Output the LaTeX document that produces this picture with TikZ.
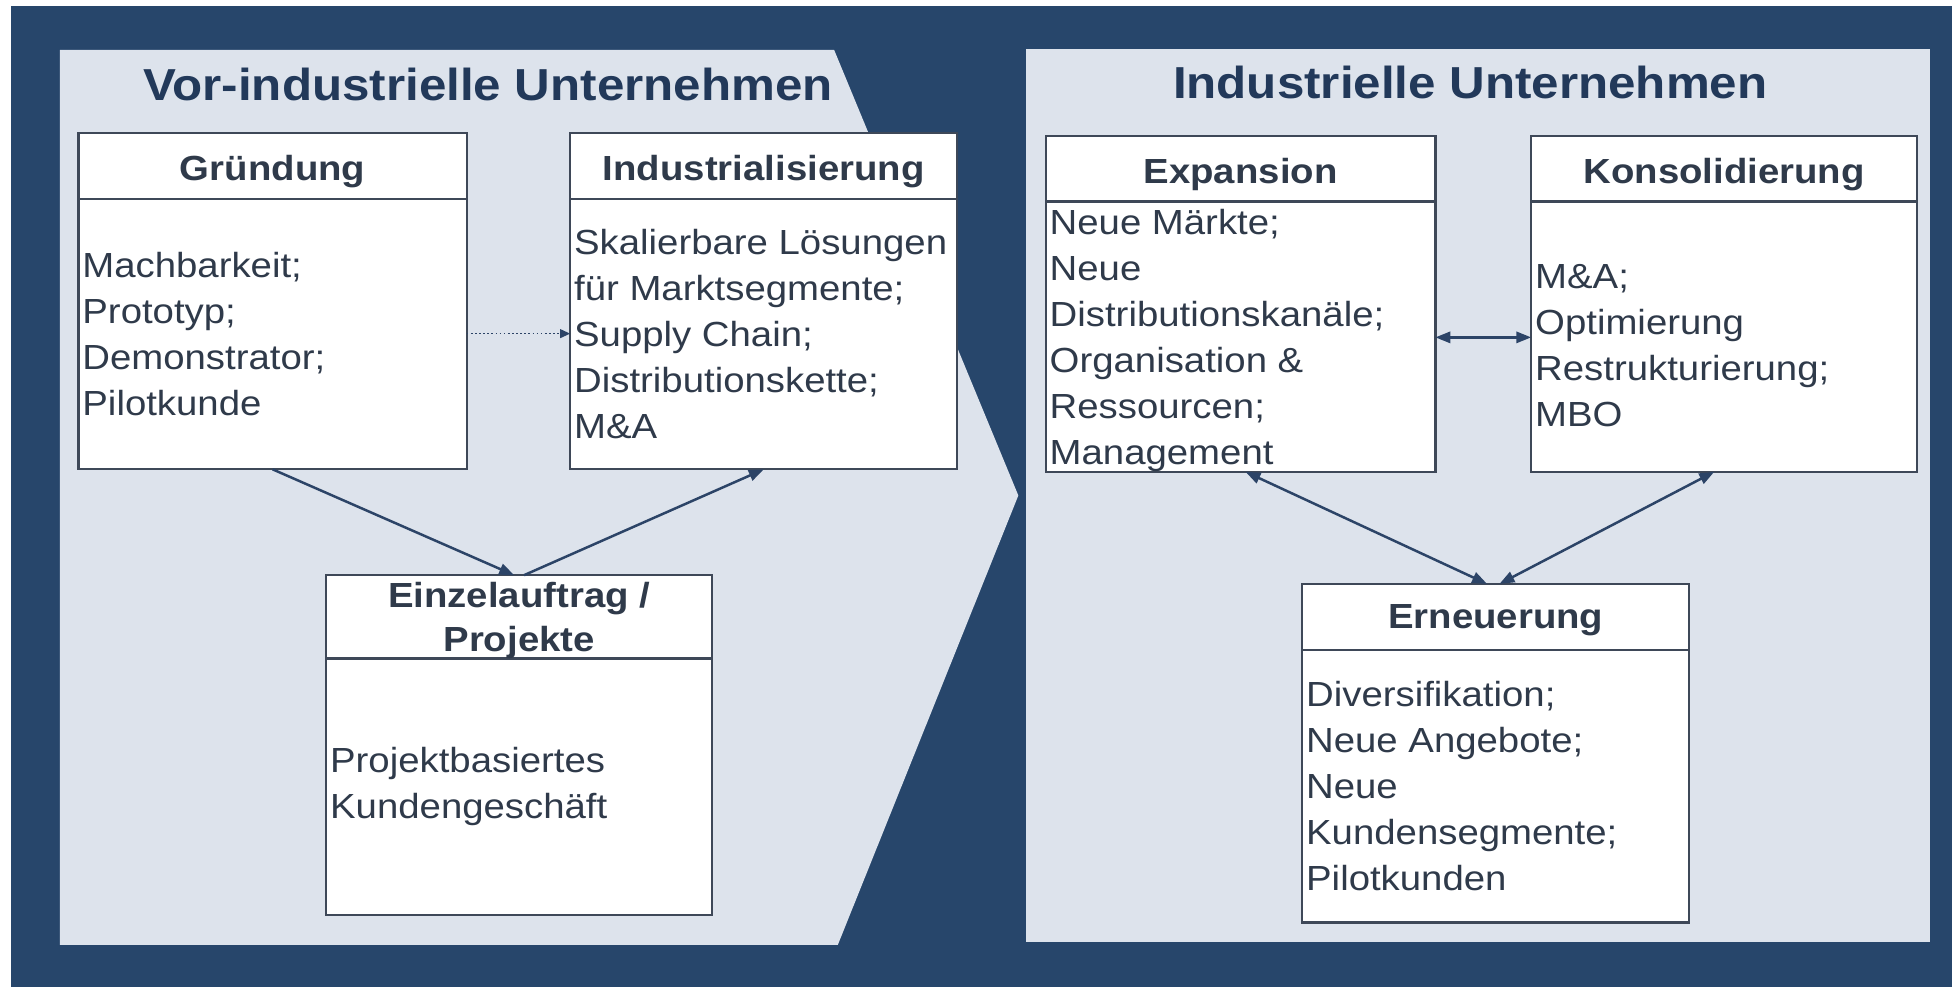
\documentclass[tikz,border=0pt]{standalone}
\usepackage{fontspec}
\setmainfont{Liberation Sans}[FakeStretch=1.1]
\usetikzlibrary{arrows.meta}
\definecolor{bgdark}{HTML}{27466B}
\definecolor{panel}{HTML}{DDE3EC}
\definecolor{txt}{HTML}{2F3A4A}
\definecolor{ttlc}{HTML}{22395A}
\definecolor{brd}{HTML}{3E4858}
\definecolor{arrc}{HTML}{2C4467}
\newcommand{\fs}{\rule{0pt}{26pt}}
\begin{document}
\begin{tikzpicture}[x=1pt,y=-1pt,
  box/.style={draw=brd, line width=1.8pt, fill=white, inner sep=0pt, outer sep=0pt},
  sep/.style={draw=brd, line width=2pt},
  hdr/.style={font=\fontsize{28}{35}\selectfont\bfseries, text=txt, align=center, inner sep=0pt},
  body/.style={font=\fontsize{28}{37}\selectfont, text=txt, align=left, inner sep=0pt, anchor=north west},
  ttl/.style={font=\fontsize{36}{40}\selectfont\bfseries, text=ttlc, inner sep=0pt, anchor=base},
  con/.style={draw=arrc, line width=2pt, -{Triangle[length=12pt,width=9pt]}},
  dcon/.style={draw=arrc, line width=2pt, {Triangle[length=12pt,width=9pt]}-{Triangle[length=12pt,width=9pt]}},
  dotcon/.style={draw=arrc, line width=1.3pt, dotted, -{Triangle[length=8pt,width=7pt]}},
]
\useasboundingbox (0,0) rectangle (1568,793);
\fill[white] (0,0) rectangle (1568,793);
\fill[bgdark] (9,5) rectangle (1568,793);
\fill[panel] (48,40) -- (670,40) -- (818,398) -- (673,759) -- (48,759) -- cycle;
\fill[panel] (824,39) rectangle (1550,757);

% titles
\node[ttl] (t1) at (392,81) {Vor-industrielle Unternehmen};
\node[ttl] (t2) at (1181,79) {Industrielle Unternehmen};

% boxes
\node[box, minimum width=312pt, minimum height=270pt] (gr) at (219,242) {};
\node[box, minimum width=311pt, minimum height=270pt] (ind) at (613.5,242) {};
\node[box, minimum width=310pt, minimum height=273pt] (ein) at (417,598.5) {};
\node[box, minimum width=313pt, minimum height=270pt] (exp) at (996.5,244) {};
\node[box, minimum width=310pt, minimum height=270pt] (kon) at (1385,244) {};
\node[box, minimum width=311pt, minimum height=272pt] (ern) at (1201.5,605) {};

% header separators
\draw[sep] (gr.west |- 0,160) -- (gr.east |- 0,160);
\draw[sep] (ind.west |- 0,160) -- (ind.east |- 0,160);
\draw[sep] (ein.west |- 0,529) -- (ein.east |- 0,529);
\draw[sep] (exp.west |- 0,162) -- (exp.east |- 0,162);
\draw[sep] (kon.west |- 0,162) -- (kon.east |- 0,162);
\draw[sep] (ern.west |- 0,522) -- (ern.east |- 0,522);

% headers
\node[hdr, anchor=base] (grh) at (219,145) {Gründung};
\node[hdr, anchor=base] (indh) at (613.5,145) {Industrialisierung};
\node[hdr, anchor=north] (einh) at (417,462) {\fs Einzelauftrag /\\Projekte};
\node[hdr, anchor=base] (exph) at (996.5,147) {Expansion};
\node[hdr, anchor=base] (konh) at (1385,147) {Konsolidierung};
\node[hdr, anchor=base] (ernh) at (1201.5,505) {Erneuerung};

% bodies
\node[body] (grb) at (66,{222.5-26}) {\fs Machbarkeit;\\Prototyp;\\Demonstrator;\\Pilotkunde};
\node[body] (indb) at (461,{204-26}) {\fs Skalierbare Lösungen\\für Marktsegmente;\\Supply Chain;\\Distributionskette;\\M\&A};
\node[body] (einb) at (265,{620-26}) {\fs Projektbasiertes\\Kundengeschäft};
\node[body] (expb) at (843,{188-26}) {\fs Neue Märkte;\\Neue\\Distributionskanäle;\\Organisation \&\\Ressourcen;\\Management};
\node[body] (konb) at (1233,{231.5-26}) {\fs M\&A;\\Optimierung\\Restrukturierung;\\MBO};
\node[body] (ernb) at (1049,{567.5-26}) {\fs Diversifikation;\\Neue Angebote;\\Neue\\Kundensegmente;\\Pilotkunden};

% connectors
\draw[dotcon] ([yshift=-26pt]gr.east) -- ([yshift=-26pt]ind.west);
\draw[con] (gr.south) -- ([xshift=-4pt]ein.north);
\draw[con] ([xshift=4pt]ein.north) -- (ind.south);
\draw[dcon] ([yshift=-27pt]exp.east) -- ([yshift=-27pt]kon.west);
\draw[dcon] ([xshift=4pt]exp.south) -- ([xshift=-7pt]ern.north);
\draw[dcon] ([xshift=-8pt]kon.south) -- ([xshift=3pt]ern.north);
\end{tikzpicture}
\end{document}
